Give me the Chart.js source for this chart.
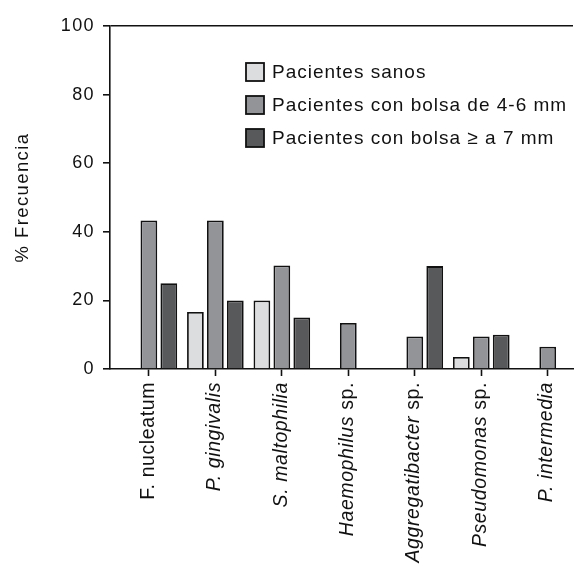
<!DOCTYPE html>
<html>
<head>
<meta charset="utf-8">
<script src="https://cdn.jsdelivr.net/npm/chart.js@4.4.1/dist/chart.umd.min.js"></script>
<style>
  html, body { margin: 0; padding: 0; background: #fff; }
  #wrap { width: 574px; height: 565px; }
</style>
</head>
<body>
<div id="wrap"><canvas id="frecuenciaChart" width="574" height="565"></canvas></div>
<script>
// Datos (% frecuencia)
const categories = ['F. nucleatum', 'P. gingivalis', 'S. maltophilia', 'Haemophilus sp.',
    'Aggregatibacter sp.', 'Pseudomonas sp.', 'P. intermedia'];
// parte del nombre en cursiva
const italicParts = ['', 'P. gingivalis', 'S. maltophilia', 'Haemophilus',
    'Aggregatibacter', 'Pseudomonas', 'P. intermedia'];

const seriesNames = ['Pacientes sanos', 'Pacientes con bolsa de 4-6 mm', 'Pacientes con bolsa \u2265 a 7 mm'];
const sanos    = [null, 16.6, 20, null, null, 3.5, null];
const bolsa46  = [43.3, 43.3, 30.2, 13.4, 9.5, 9.5, 6.5];
const bolsa7   = [25, 20, 15, null, 30, 10, null];
const yTicks   = [0, 20, 40, 60, 80, 100];

const colors = ['#dcdddf', '#939498', '#58595b'];
const FONT = 'Liberation Sans, Arial, sans-serif';

Chart.defaults.font.family = FONT;
Chart.defaults.color = '#111';

function toPoints(values) {
    return values.map((v, i) => ({ x: i, y: v }));
}

/* Beschriftung der x-Achse mit gemischter Schrift (kursiv / normal) */
const xLabelPlugin = {
    id: 'xLabels',
    afterDraw(chart) {
        const ctx = chart.ctx;
        const xs = chart.scales.x;
        const size = 19.5;
        ctx.save();
        ctx.fillStyle = '#111';
        ctx.letterSpacing = '0.6px';
        ctx.textBaseline = 'alphabetic';
        categories.forEach((label, i) => {
            const it = italicParts[i];
            const parts = it && label.startsWith(it)
                ? [[it, true], [label.slice(it.length), false]]
                : [[label, false]];
            let total = 0;
            parts.forEach(([t, ital]) => {
                ctx.font = (ital ? 'italic ' : '') + size + 'px ' + FONT;
                total += ctx.measureText(t).width;
            });
            ctx.save();
            ctx.translate(xs.getPixelForValue(i) + size * 0.24, xs.top + 13);
            ctx.rotate(-Math.PI / 2);
            let x = -total;
            parts.forEach(([t, ital]) => {
                ctx.font = (ital ? 'italic ' : '') + size + 'px ' + FONT;
                ctx.textAlign = 'left';
                ctx.fillText(t, x, 0);
                x += ctx.measureText(t).width;
            });
            ctx.restore();
        });
        ctx.restore();
    }
};

/* Legende im Diagrammbereich */
const legendPlugin = {
    id: 'innerLegend',
    afterDraw(chart) {
        const ctx = chart.ctx;
        ctx.save();
        ctx.letterSpacing = '1px';
        ctx.font = '19px ' + FONT;
        ctx.textBaseline = 'middle';
        ctx.textAlign = 'left';
        seriesNames.forEach((name, i) => {
            const y = 72 + i * 33;
            ctx.fillStyle = colors[i];
            ctx.fillRect(246, y - 9, 18, 18);
            ctx.lineWidth = 1.8;
            ctx.strokeStyle = '#111';
            ctx.strokeRect(246, y - 9, 18, 18);
            ctx.fillStyle = '#111';
            ctx.fillText(name, 272, y + 1);
        });
        ctx.restore();
    }
};

const spacingPlugin = {
    id: 'spacing',
    beforeDraw(chart) { chart.ctx.letterSpacing = '1.4px'; }
};

const datasetOpts = { borderColor: '#111', borderWidth: 1.8, categoryPercentage: 0.9, barPercentage: 0.84 };

new Chart(document.getElementById('frecuenciaChart').getContext('2d'), {
    type: 'bar',
    data: {
        datasets: [
            { label: seriesNames[0], data: toPoints(sanos), backgroundColor: colors[0], ...datasetOpts },
            { label: seriesNames[1], data: toPoints(bolsa46), backgroundColor: colors[1], ...datasetOpts },
            { label: seriesNames[2], data: toPoints(bolsa7), backgroundColor: colors[2], ...datasetOpts },
        ]
    },
    options: {
        responsive: false,
        animation: false,
        devicePixelRatio: 1,
        layout: { padding: { top: 26, right: 1, left: 0, bottom: 0 } },
        plugins: { legend: { display: false }, tooltip: { enabled: false } },
        scales: {
            x: {
                type: 'linear',
                offset: false,
                min: -0.585,
                max: 6.38,
                afterBuildTicks: (s) => { s.ticks = categories.map((_, i) => ({ value: i })); },
                afterFit: (s) => { s.height = 196; },
                ticks: { display: false },
                grid: { offset: false, drawOnChartArea: false, drawTicks: true, tickLength: 7, tickColor: '#111', tickWidth: 1.6 },
                border: { color: '#111', width: 1.6 }
            },
            y: {
                min: 0,
                max: 100,
                afterBuildTicks: (s) => { s.ticks = yTicks.map((v) => ({ value: v })); },
                afterFit: (s) => { s.width = 110; },
                ticks: { font: { size: 18 }, color: '#111', padding: 8 },
                grid: {
                    color: (c) => (c.tick && c.tick.value === 100 ? '#111' : 'rgba(0,0,0,0)'),
                    lineWidth: 1.6,
                    tickColor: '#111',
                    tickLength: 7,
                    tickWidth: 1.6
                },
                border: { color: '#111', width: 1.6 },
                title: { display: true, text: '% Frecuencia', font: { size: 18.5 }, color: '#111', padding: { top: 12, bottom: 0 } }
            }
        }
    },
    plugins: [spacingPlugin, xLabelPlugin, legendPlugin]
});
</script>
</body>
</html>
